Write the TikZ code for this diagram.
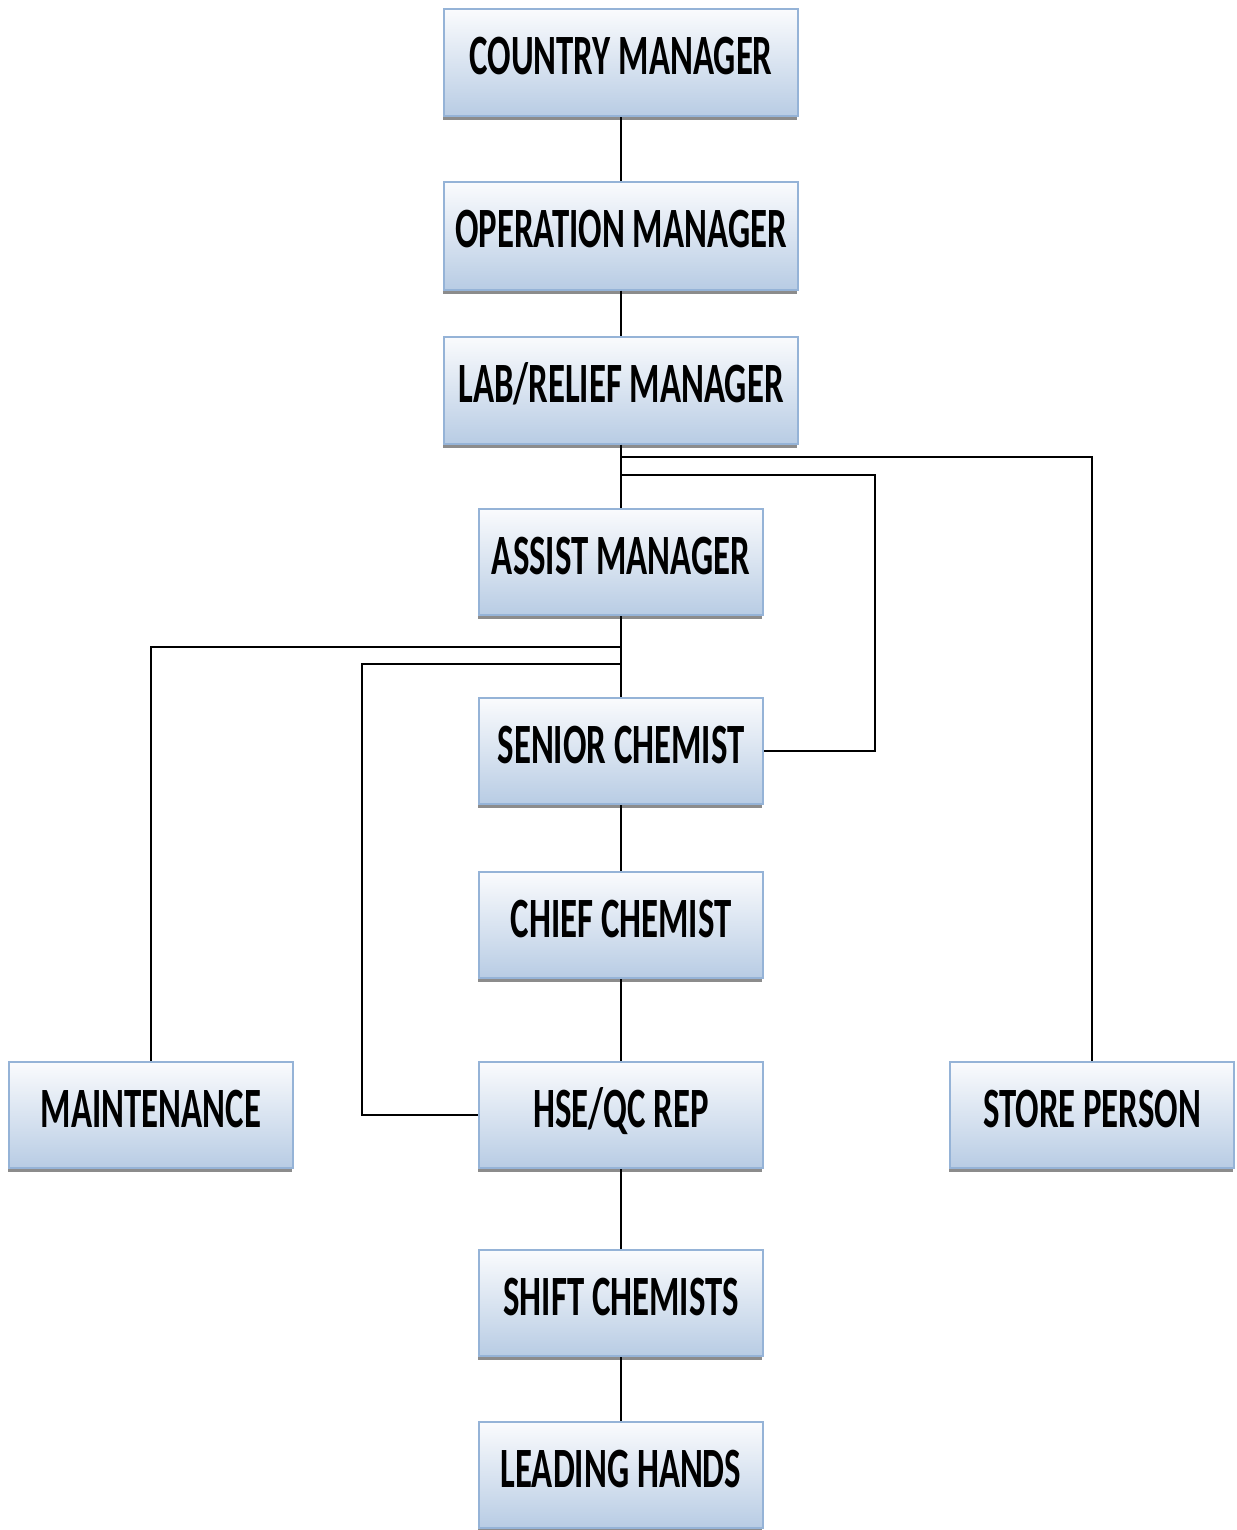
\documentclass[tikz,border=0pt]{standalone}
\usepackage{fontspec}
\newfontfamily\boxfont{Carlito}[FakeStretch=0.61]
\usetikzlibrary{shadows}
\definecolor{boxbot}{RGB}{184,204,228}
\definecolor{boxtop}{RGB}{250,251,253}
\definecolor{boxline}{RGB}{149,179,215}
\tikzset{
  orgbox/.style={draw=boxline, line width=1pt, top color=boxtop, bottom color=boxbot,
    minimum width=142pt, minimum height=53pt, inner sep=0pt,
    text height=18pt, text depth=6pt,
    font=\boxfont\bfseries\fontsize{28.5}{30}\selectfont,
    drop shadow={shadow xshift=-0.6pt, shadow yshift=-2pt, fill=black!45, opacity=1}},
  widebox/.style={orgbox, minimum width=177pt, minimum height=53.5pt},
  conn/.style={draw=black, line width=1pt}
}
\begin{document}
\begin{tikzpicture}[x=0.5pt, y=-0.5pt]
\useasboundingbox (0,0) rectangle (1236,1530);
\node[widebox] (cm) at (621,63) {COUNTRY MANAGER};
\node[widebox] (om) at (621,236) {OPERATION MANAGER};
\node[widebox] (lab) at (621,390) {LAB/RELIEF MANAGER};
\node[orgbox] (am) at (621,562) {ASSIST MANAGER};
\node[orgbox] (sc) at (621,751) {SENIOR CHEMIST};
\node[orgbox] (cc) at (621,925) {CHIEF CHEMIST};
\node[orgbox] (hse) at (621,1115) {HSE/QC REP};
\node[orgbox] (sh) at (621,1303) {SHIFT CHEMISTS};
\node[orgbox] (lh) at (621,1475) {LEADING HANDS};
\node[orgbox] (mt) at (151,1115) {MAINTENANCE};
\node[orgbox] (sp) at (1092,1115) {STORE PERSON};

\coordinate (j1) at (621,457);
\coordinate (j2) at (621,475);
\coordinate (j3) at (621,647);
\coordinate (j4) at (621,664);
\coordinate (r2) at (875,0);
\coordinate (r4) at (362,0);

\draw[conn] (cm.south) -- (om.north);
\draw[conn] (om.south) -- (lab.north);
\draw[conn] (lab.south) -- (am.north);
\draw[conn] (j1) -| (sp.north);
\draw[conn] (j2) -| (r2 |- sc.east) -- (sc.east);
\draw[conn] (am.south) -- (sc.north);
\draw[conn] (j3) -| (mt.north);
\draw[conn] (j4) -| (r4 |- hse.west) -- (hse.west);
\draw[conn] (sc.south) -- (cc.north);
\draw[conn] (cc.south) -- (hse.north);
\draw[conn] (hse.south) -- (sh.north);
\draw[conn] (sh.south) -- (lh.north);
\end{tikzpicture}
\end{document}
